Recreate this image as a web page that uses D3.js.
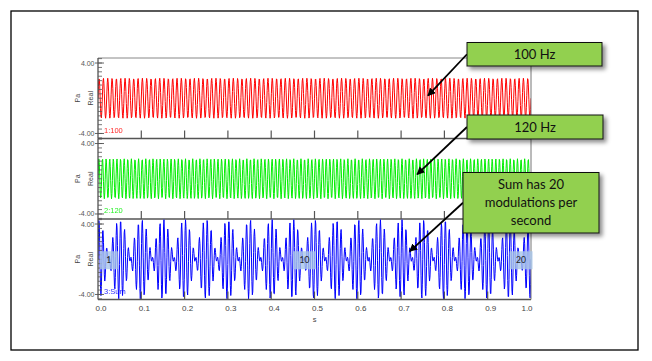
<!DOCTYPE html>
<html><head><meta charset="utf-8">
<script src="https://cdn.jsdelivr.net/npm/d3@7"></script>
<style>body{margin:0;background:#fff}</style></head>
<body>
<svg id="c" width="652" height="361"></svg>
<script>
// ---- data ----
const seriesLabels = ["1:100", "2:120", "3:Sum"];
const seriesColors = ["#ff0000", "#00ee00", "#0000ff"];
const frequenciesHz = [100, 120];
const amplitudesPa = [2.27, 2.27];
const sampleRateHz = 1024;
const timeDomain = [0, 1];
const xTickValues = [0, 0.1, 0.2, 0.3, 0.4, 0.5, 0.6, 0.7, 0.8, 0.9, 1.0];
const xTickLabels = ["0.0", "0.1", "0.2", "0.3", "0.4", "0.5", "0.6", "0.7", "0.8", "0.9", "1.0"];
const yTickValues = [4, -4];
const yTickLabels = ["4.00", "-4.00"];
const markerLabels = ["1", "10", "20"];
const markerTimes = [0.025, 0.477, 0.977];
const calloutTexts = [["100 Hz"], ["120 Hz"], ["Sum has 20", "modulations per", "second"]];
const arrowTargetTimes = [0.762, 0.737, 0.72];
const arrowTargetValues = [0.3, 0.5, 0.9];

// ---- build series ----
const nSamples = Math.round((timeDomain[1] - timeDomain[0]) * sampleRateHz);
const times = d3.range(nSamples + 1).map(i => timeDomain[0] + i / sampleRateHz);
const s1 = times.map(t => amplitudesPa[0] * Math.sin(2 * Math.PI * frequenciesHz[0] * t));
const s2 = times.map(t => amplitudesPa[1] * Math.sin(2 * Math.PI * frequenciesHz[1] * t));
const s3 = s1.map((v, i) => v + s2[i]);
const series = [s1, s2, s3];

// ---- layout ----
const svg = d3.select("#c");
svg.append("defs").append("filter").attr("id", "sh")
  .attr("x", "-10%").attr("y", "-20%").attr("width", "130%").attr("height", "160%")
  .append("feDropShadow").attr("dx", 3).attr("dy", 3).attr("stdDeviation", 2.2)
  .attr("flood-color", "#000").attr("flood-opacity", 0.45);

svg.append("rect").attr("x", 11).attr("y", 11).attr("width", 627).attr("height", 339)
  .attr("fill", "#fff").attr("stroke", "#000").attr("stroke-width", 1.3);

const x = d3.scaleLinear().domain(timeDomain).range([98, 531]);
const panelTops = [58, 138.5, 219];
const panelH = 80.5;

panelTops.forEach((top, k) => {
  const y = d3.scaleLinear().domain([-4.57, 4.57]).range([top + panelH, top]);
  const g = svg.append("g");
  const clipId = "clip" + k;
  svg.append("clipPath").attr("id", clipId).append("rect")
    .attr("x", x(0)).attr("y", top).attr("width", x(1) - x(0)).attr("height", panelH);

  // signal
  g.append("path").datum(series[k])
    .attr("clip-path", `url(#${clipId})`)
    .attr("fill", "none").attr("stroke", seriesColors[k]).attr("stroke-width", 1)
    .attr("d", d3.line().x((d, i) => x(times[i])).y(d => y(d)));

  // frame
  if (k === 0) {
    g.append("line").attr("x1", x(0)).attr("x2", x(1)).attr("y1", top).attr("y2", top)
      .attr("stroke", "#888").attr("stroke-width", 1);
  }
  g.append("line").attr("x1", x(1)).attr("x2", x(1)).attr("y1", top).attr("y2", top + panelH)
    .attr("stroke", "#777").attr("stroke-width", 1);
  g.append("line").attr("x1", x(0)).attr("x2", x(0)).attr("y1", top).attr("y2", top + panelH)
    .attr("stroke", "#444").attr("stroke-width", 1.2);
  g.append("line").attr("x1", x(0)).attr("x2", x(1)).attr("y1", top + panelH).attr("y2", top + panelH)
    .attr("stroke", "#555").attr("stroke-width", 1.4);

  // x ticks (upward)
  g.selectAll(".xt").data(xTickValues.slice(1, -1)).enter().append("line")
    .attr("x1", d => x(d)).attr("x2", d => x(d))
    .attr("y1", top + panelH).attr("y2", top + panelH - 8)
    .attr("stroke", "#555").attr("stroke-width", 1.2);

  // y minor ticks
  g.selectAll(".ym").data(d3.range(-4.5, 4.51, 0.5)).enter().append("line")
    .attr("x1", x(0)).attr("x2", x(0) + 4)
    .attr("y1", d => y(d)).attr("y2", d => y(d))
    .attr("stroke", "#555").attr("stroke-width", 0.8);
  g.selectAll(".yM").data(yTickValues).enter().append("line")
    .attr("x1", x(0) - 3).attr("x2", x(0) + 6)
    .attr("y1", d => y(d)).attr("y2", d => y(d))
    .attr("stroke", "#555").attr("stroke-width", 0.9);
  g.selectAll(".yl").data(yTickValues).enter().append("text")
    .attr("x", x(0) - 3.5).attr("y", d => y(d) + 2.5)
    .attr("text-anchor", "end").attr("font-family", "Liberation Sans, Arial, sans-serif")
    .attr("font-size", 7).attr("fill", "#555")
    .text((d, i) => yTickLabels[i]);

  // axis titles
  const cy = top + panelH / 2;
  g.append("text").attr("transform", `translate(80,${cy}) rotate(-90)`)
    .attr("text-anchor", "middle").attr("font-family", "Liberation Sans, Arial, sans-serif")
    .attr("font-size", 7).attr("fill", "#444").text("Pa");
  g.append("text").attr("transform", `translate(93,${cy}) rotate(-90)`)
    .attr("text-anchor", "middle").attr("font-family", "Liberation Sans, Arial, sans-serif")
    .attr("font-size", 7).attr("fill", "#444").text("Real");

  // series label
  g.append("text").attr("x", x(0) + 6).attr("y", top + panelH - 6)
    .attr("font-family", "Liberation Sans, Arial, sans-serif").attr("font-size", 7.5)
    .attr("fill", seriesColors[k]).attr("opacity", 0.85).text(seriesLabels[k]);

  if (k === 2) {
    // modulation markers
    markerLabels.forEach((lab, i) => {
      const w = lab.length > 1 ? 23 : 18;
      const cx = x(markerTimes[i]);
      g.append("rect").attr("x", cx - w / 2).attr("y", y(0) - 8).attr("width", w).attr("height", 18)
        .attr("fill", "#a9c5ea").attr("opacity", 0.8);
      g.append("text").attr("x", cx).attr("y", y(0) + 4)
        .attr("text-anchor", "middle").attr("font-family", "Lato, sans-serif")
        .attr("font-size", 8.5).attr("fill", "#222").text(lab);
    });
    // x tick labels
    g.selectAll(".xl").data(xTickValues).enter().append("text")
      .attr("x", (d, i) => x(d) + (i === xTickValues.length - 1 ? -4 : 3))
      .attr("y", top + panelH + 11)
      .attr("text-anchor", "middle").attr("font-family", "Liberation Sans, Arial, sans-serif")
      .attr("font-size", 8).attr("fill", "#444")
      .text((d, i) => xTickLabels[i]);
    g.append("text").attr("x", x(0.5)).attr("y", top + panelH + 22)
      .attr("text-anchor", "middle").attr("font-family", "Liberation Sans, Arial, sans-serif")
      .attr("font-size", 7.5).attr("fill", "#444").text("s");
  }
});

// ---- callouts ----
const boxes = [
  {x: 467, y: 42.5, w: 135, h: 23.5},
  {x: 467, y: 115, w: 136, h: 24},
  {x: 463, y: 172.5, w: 136, h: 60.5}
];
const yScales = panelTops.map(top => d3.scaleLinear().domain([-4.57, 4.57]).range([top + panelH, top]));
svg.append("defs").append("marker").attr("id", "ah")
  .attr("viewBox", "0 0 10 10").attr("refX", 9).attr("refY", 5)
  .attr("markerWidth", 4.5).attr("markerHeight", 4.5).attr("orient", "auto")
  .append("path").attr("d", "M0,0 L10,5 L0,10 z").attr("fill", "#000");

boxes.forEach((b, i) => {
  svg.append("line")
    .attr("x1", b.x).attr("y1", b.y + b.h / 2)
    .attr("x2", x(arrowTargetTimes[i])).attr("y2", yScales[i](arrowTargetValues[i]))
    .attr("stroke", "#000").attr("stroke-width", 1.8).attr("marker-end", "url(#ah)");
  svg.append("rect").attr("x", b.x).attr("y", b.y).attr("width", b.w).attr("height", b.h)
    .attr("fill", "#92d050").attr("stroke", "#111").attr("stroke-width", 1)
    .attr("filter", "url(#sh)");
  const lines = calloutTexts[i];
  const lh = 18;
  const y0 = b.y + b.h / 2 - (lines.length - 1) * lh / 2 + 4.5;
  lines.forEach((t, j) => {
    svg.append("text").attr("x", b.x + b.w / 2).attr("y", y0 + j * lh)
      .attr("text-anchor", "middle").attr("font-family", "Lato, sans-serif")
      .attr("font-size", 13).attr("fill", "#111").text(t);
  });
});
</script>
</body></html>
